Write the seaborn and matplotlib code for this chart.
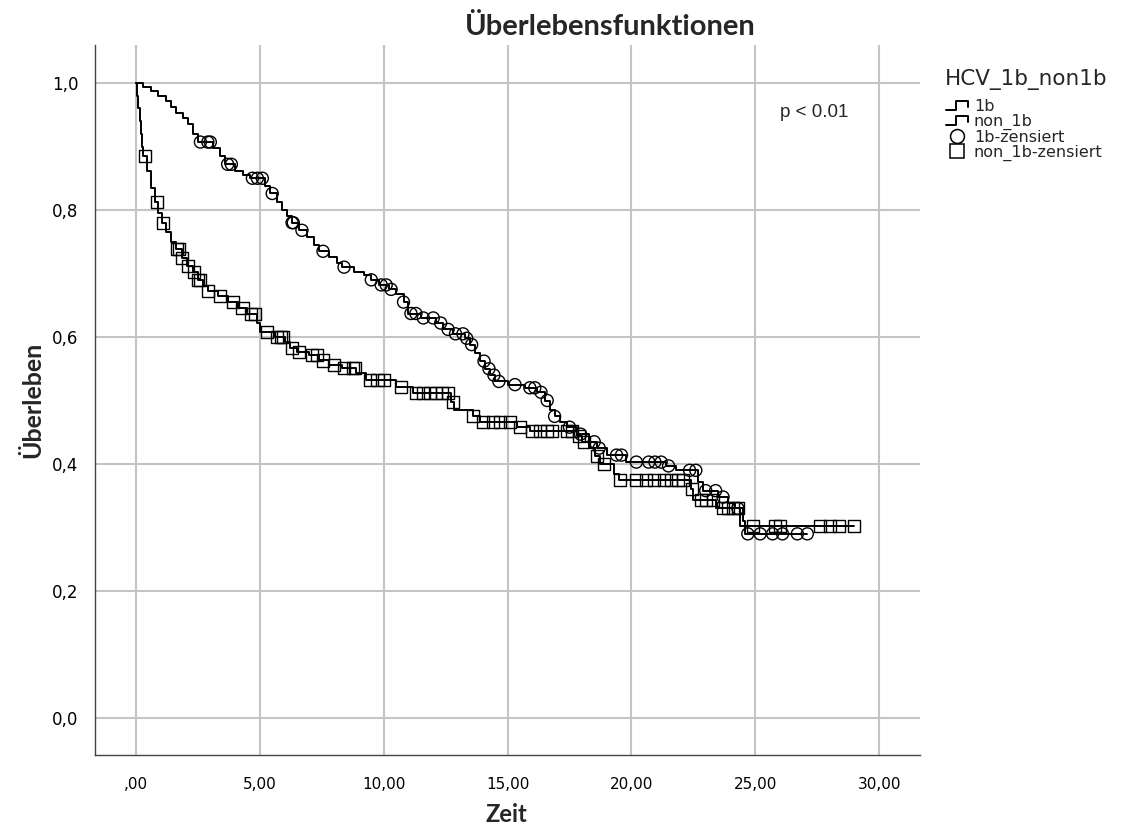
import numpy as np
import pandas as pd
import matplotlib
matplotlib.use("Agg")
import matplotlib.pyplot as plt
import seaborn as sns
from matplotlib.lines import Line2D
from matplotlib.legend_handler import HandlerBase

# ---------------- data ----------------
t_1b = [0, 0.3, 0.6, 0.9, 1.2, 1.4, 1.6, 1.9, 2.1, 2.3, 2.5, 3.1, 3.4, 3.6, 4.0, 4.3, 4.6,
        5.2, 5.4, 5.7, 5.9, 6.1, 6.3, 6.6, 6.9, 7.2, 7.4, 7.8, 8.1, 8.3, 8.8, 9.2, 9.5, 9.8,
        10.2, 10.5, 10.8, 11.0, 11.5, 12.1, 12.4, 12.8, 13.3, 13.5, 13.7, 13.9, 14.1, 14.3,
        14.5, 15.0, 15.7, 16.2, 16.5, 16.7, 16.9, 17.1, 17.4, 17.8, 18.3, 18.6, 19.0, 19.8,
        21.4, 21.8, 22.7, 22.9, 23.5, 23.9, 24.2, 24.5, 24.6, 27.1]
s_1b = [1.0, 0.993, 0.987, 0.980, 0.972, 0.962, 0.953, 0.945, 0.935, 0.920, 0.907, 0.898,
        0.885, 0.872, 0.862, 0.855, 0.850, 0.838, 0.826, 0.812, 0.800, 0.790, 0.780, 0.768,
        0.757, 0.745, 0.735, 0.726, 0.717, 0.710, 0.703, 0.697, 0.690, 0.682, 0.675, 0.668,
        0.655, 0.637, 0.630, 0.622, 0.612, 0.605, 0.598, 0.588, 0.575, 0.562, 0.550, 0.540,
        0.530, 0.525, 0.520, 0.513, 0.500, 0.485, 0.475, 0.466, 0.458, 0.447, 0.435, 0.425,
        0.414, 0.403, 0.397, 0.390, 0.372, 0.358, 0.348, 0.338, 0.330, 0.310, 0.290, 0.290]
cens_1b = [2.6, 2.9, 3.0, 3.7, 3.85, 4.7, 4.9, 5.1, 5.5, 6.3, 6.35, 6.7, 7.55, 8.4, 9.5, 9.9,
           10.1, 10.3, 10.8, 11.1, 11.3, 11.6, 12.0, 12.3, 12.6, 12.9, 13.2, 13.35, 13.55,
           14.05, 14.25, 14.45, 14.65, 15.3, 15.9, 16.1, 16.35, 16.6, 16.9, 17.5, 17.95, 18.5,
           18.7, 19.4, 19.6, 20.2, 20.7, 20.95, 21.2, 21.5, 22.35, 22.6, 23.0, 23.4, 23.7,
           24.3, 24.7, 25.2, 25.7, 26.1, 26.7, 27.1]

t_non = [0, 0.05, 0.1, 0.15, 0.2, 0.25, 0.3, 0.45, 0.6, 0.75, 0.9, 1.05, 1.2, 1.4, 1.6, 1.85,
         2.05, 2.3, 2.5, 2.7, 2.9, 3.3, 3.7, 4.1, 4.5, 4.9, 5.0, 5.6, 6.0, 6.2, 6.5, 7.0, 7.4,
         7.8, 8.3, 8.9, 9.3, 10.5, 11.2, 12.7, 12.85, 13.6, 13.9, 15.4, 15.9, 17.8, 18.0,
         18.3, 18.55, 18.75, 19.3, 19.5, 22.4, 22.5, 23.4, 24.4, 29.0]
s_non = [1.0, 0.98, 0.96, 0.94, 0.92, 0.90, 0.885, 0.862, 0.835, 0.812, 0.795, 0.78, 0.765,
         0.75, 0.738, 0.725, 0.712, 0.702, 0.69, 0.68, 0.672, 0.664, 0.655, 0.645, 0.636,
         0.622, 0.608, 0.600, 0.592, 0.583, 0.577, 0.572, 0.563, 0.556, 0.551, 0.544, 0.533,
         0.522, 0.512, 0.497, 0.485, 0.475, 0.466, 0.458, 0.452, 0.444, 0.435, 0.425, 0.412,
         0.400, 0.385, 0.375, 0.360, 0.344, 0.331, 0.302, 0.302]
cens_non = [0.36, 0.85, 1.1, 1.65, 1.75, 1.85, 2.1, 2.35, 2.5, 2.6, 2.9, 3.4, 3.9, 4.3, 4.65,
            4.8, 5.3, 5.7, 5.85, 5.95, 6.3, 6.6, 7.1, 7.3, 7.55, 8.0, 8.4, 8.75, 8.85, 9.45,
            9.75, 10.0, 10.7, 11.3, 11.6, 11.85, 12.1, 12.35, 12.6, 12.8, 13.6, 14.0, 14.4,
            14.7, 15.1, 15.5, 16.0, 16.3, 16.6, 16.8, 17.4, 17.6, 17.9, 18.1, 18.6, 18.9,
            19.55, 20.2, 20.6, 20.9, 21.3, 21.6, 21.9, 22.1, 22.45, 22.8, 23.0, 23.3, 23.7,
            23.9, 24.1, 24.3, 24.9, 25.8, 26.0, 27.6, 28.0, 28.4, 29.0]

x_ticks = [0, 5, 10, 15, 20, 25, 30]
x_tick_labels = [",00", "5,00", "10,00", "15,00", "20,00", "25,00", "30,00"]
y_ticks = [0.0, 0.2, 0.4, 0.6, 0.8, 1.0]
y_tick_labels = ["0,0", "0,2", "0,4", "0,6", "0,8", "1,0"]
legend_labels = ["1b", "non_1b", "1b-zensiert", "non_1b-zensiert"]


def surv_at(times, surv, pts):
    idx = np.searchsorted(np.asarray(times), np.asarray(pts), side="right") - 1
    return np.asarray(surv)[np.clip(idx, 0, len(surv) - 1)]


curve_1b = pd.DataFrame({"Zeit": t_1b, "S": s_1b})
curve_non = pd.DataFrame({"Zeit": t_non, "S": s_non})
cdf_1b = pd.DataFrame({"Zeit": cens_1b, "S": surv_at(t_1b, s_1b, cens_1b)})
cdf_non = pd.DataFrame({"Zeit": cens_non, "S": surv_at(t_non, s_non, cens_non)})

# ---------------- figure ----------------
sns.set_style("white")
plt.rcParams["font.family"] = ["DejaVu Sans"]

W, H = 1137, 832
fig = plt.figure(figsize=(W / 100, H / 100), dpi=100)
ax = fig.add_axes([95 / W, 1 - 755 / H, (920 - 95) / W, (755 - 45) / H])

grid_c = "#c4c4c4"
for xv in x_ticks:
    ax.axvline(xv, color=grid_c, lw=1.5, zorder=0)
for yv in y_ticks:
    ax.axhline(yv, color=grid_c, lw=1.5, zorder=0)

sns.lineplot(data=curve_1b, x="Zeit", y="S", drawstyle="steps-post", color="black",
             lw=1.4, ax=ax, zorder=3, sort=False)
sns.lineplot(data=curve_non, x="Zeit", y="S", drawstyle="steps-post", color="black",
             lw=1.4, ax=ax, zorder=3, sort=False)
sns.scatterplot(data=cdf_1b, x="Zeit", y="S", marker="o", s=75, ax=ax, zorder=4,
                color="black", linewidth=1.0)
sns.scatterplot(data=cdf_non, x="Zeit", y="S", marker="s", s=75, ax=ax, zorder=4,
                color="black", linewidth=1.0)
for coll in ax.collections:
    coll.set_facecolor("none")
    coll.set_edgecolor("black")

ax.set_xlim((95 - 136) / 24.77, (920 - 136) / 24.77)
ax.set_ylim(-(755 - 718) / 635, (718 - 45) / 635)
ax.set_xticks(x_ticks)
ax.set_xticklabels(x_tick_labels, fontsize=11)
ax.set_yticks(y_ticks)
ax.set_yticklabels(y_tick_labels, fontsize=12)
ax.tick_params(axis="both", direction="out", length=7, width=1.2, color="black",
               labelcolor="black", pad=5)
ax.tick_params(axis="x", pad=9)
for side in ["top", "right"]:
    ax.spines[side].set_visible(False)
for side in ["left", "bottom"]:
    ax.spines[side].set_color("#444444")
    ax.spines[side].set_linewidth(1.0)

ax.set_xlabel("")
ax.set_ylabel("")
fig.text(506 / W, 1 - 815 / H, "Zeit", ha="center", va="center", fontsize=17,
         fontweight="bold", family="Lato")
fig.text(33 / W, 1 - 400 / H, "Überleben", ha="center", va="center", rotation=90,
         fontsize=18, fontweight="bold", family="Lato")
fig.text(610 / W, 1 - 27 / H, "Überlebensfunktionen", ha="center", va="center",
         fontsize=21, fontweight="bold", family="Lato")
ax.text(26.0, 0.953, "p < 0.01", fontsize=13.5, family="Liberation Sans", va="center")


class StepHandler(HandlerBase):
    def create_artists(self, legend, orig_handle, xdescent, ydescent, width, height,
                       fontsize, trans):
        x0 = -xdescent
        y0 = -ydescent
        xs = [x0 + 0.05 * width, x0 + 0.45 * width, x0 + 0.45 * width, x0 + 0.95 * width,
              x0 + 0.95 * width]
        ys = [y0 + 0.05 * height, y0 + 0.05 * height, y0 + 0.85 * height,
              y0 + 0.85 * height, y0 + 0.35 * height]
        ln = Line2D(xs, ys, color="black", lw=1.4, transform=trans)
        return [ln]


h_step1 = Line2D([], [], color="black")
h_step2 = Line2D([], [], color="black")
h_circ = Line2D([], [], marker="o", ls="", mfc="none", mec="black", ms=10, mew=1.1)
h_sq = Line2D([], [], marker="s", ls="", mfc="none", mec="black", ms=10, mew=1.1)
leg = fig.legend([h_step1, h_step2, h_circ, h_sq], legend_labels,
                 handler_map={h_step1: StepHandler(), h_step2: StepHandler()},
                 loc="upper left", bbox_to_anchor=(934 / W, 1 - 58 / H),
                 frameon=False, title="HCV_1b_non1b", title_fontsize=15.5, fontsize=11.5,
                 handlelength=1.5, handletextpad=0.3, labelspacing=0.0,
                 borderpad=0.2)
leg._legend_box.align = "left"
leg._legend_box.sep = 6

fig.savefig("out.png", dpi=100)
